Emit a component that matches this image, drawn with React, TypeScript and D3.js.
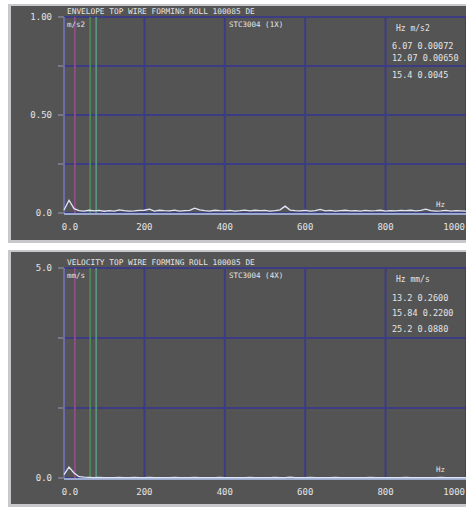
import React from "react";
import * as d3 from "d3";

// spectrum frequencies, 12.5 Hz steps, 0..1000 Hz
const freqs: number[] = d3.range(0, 81).map((i) => i * 12.5);

// acceleration envelope (m/s2)
const accAmp: number[] = [
  0.015, 0.065, 0.022, 0.012, 0.01, 0.014, 0.011, 0.013, 0.009, 0.012,
  0.01, 0.016, 0.012, 0.01, 0.011, 0.013, 0.014, 0.02, 0.01, 0.014,
  0.012, 0.011, 0.015, 0.01, 0.012, 0.013, 0.025, 0.016, 0.012, 0.01,
  0.014, 0.012, 0.011, 0.013, 0.01, 0.012, 0.015, 0.011, 0.014, 0.012,
  0.013, 0.01, 0.012, 0.016, 0.035, 0.015, 0.012, 0.011, 0.013, 0.01,
  0.012, 0.018, 0.011, 0.013, 0.01, 0.012, 0.014, 0.011, 0.012, 0.01,
  0.013, 0.011, 0.012, 0.014, 0.01, 0.012, 0.011, 0.013, 0.012, 0.014,
  0.011, 0.013, 0.02, 0.012, 0.01, 0.011, 0.013, 0.01, 0.012, 0.011,
  0.01,
];

// velocity (mm/s)
const velAmp: number[] = [
  0.08, 0.26, 0.12, 0.03, 0.02, 0.015, 0.01, 0.012, 0.01, 0.01,
  0.01, 0.012, 0.01, 0.01, 0.015, 0.01, 0.01, 0.012, 0.01, 0.01,
  0.01, 0.01, 0.012, 0.01, 0.01, 0.01, 0.015, 0.01, 0.01, 0.01,
  0.01, 0.012, 0.01, 0.01, 0.01, 0.01, 0.01, 0.015, 0.01, 0.01,
  0.01, 0.01, 0.012, 0.01, 0.01, 0.02, 0.01, 0.01, 0.01, 0.012,
  0.01, 0.01, 0.01, 0.01, 0.012, 0.01, 0.01, 0.01, 0.01, 0.01,
  0.01, 0.012, 0.01, 0.01, 0.01, 0.01, 0.01, 0.01, 0.012, 0.01,
  0.01, 0.01, 0.01, 0.01, 0.01, 0.012, 0.01, 0.01, 0.01, 0.01,
  0.01,
];

const xTicks = [0, 200, 400, 600, 800, 1000];
const xTickLabels = ["0.0", "200", "400", "600", "800", "1000"];

// harmonic marker lines (Hz)
const markerFreqs = [27, 65, 80];
const markerColors = ["#9b4f8e", "#4f8f5c", "#5c9a86"];

const accLegend = [
  ["6.07", "0.00072"],
  ["12.07", "0.00650"],
  ["15.4", "0.0045"],
];
const velLegend = [
  ["13.2", "0.2600"],
  ["15.84", "0.2200"],
  ["25.2", "0.0880"],
];

const bg = "#545454";
const gridColor = "#3c3c84";
const textColor = "#e4e4e4";
const mono = "'DejaVu Sans Mono', monospace";

type PanelProps = {
  top: number;
  height: number;
  plotTop: number;
  plotBottom: number;
  yMax: number;
  yDivs: number;
  yLabels: string[];
  amps: number[];
  title: string;
  unit: string;
  mid: string;
  legendUnit: string;
  legend: string[][];
  legendY: number[];
};

function Panel(p: PanelProps) {
  const left = 64;
  const right = 466;
  const x = d3.scaleLinear().domain([0, 1000]).range([left, right]);
  const y = d3.scaleLinear().domain([0, p.yMax]).range([p.plotBottom, p.plotTop]);
  const line = d3
    .line<number>()
    .x((_, i) => x(freqs[i]))
    .y((d) => y(d));
  const gridYs = d3.range(0, p.yDivs + 1).map((i) => (p.yMax * i) / p.yDivs);

  return (
    <g>
      <rect x={8} y={p.top} width={458} height={p.height} fill="#c8c8cc" />
      <rect x={11} y={p.top + 2} width={455} height={p.height - 5} fill={bg} />
      <text x={67} y={p.plotTop - 3} fontFamily={mono} fontSize={7.8} fill={textColor}>
        {p.title}
      </text>
      {gridYs.map((g) => (
        <g key={g}>
          <line x1={left} x2={right} y1={y(g)} y2={y(g)} stroke={gridColor} strokeWidth={2} />
          <line x1={58} x2={left} y1={y(g)} y2={y(g)} stroke="#9a9ab8" strokeWidth={1} />
        </g>
      ))}
      {xTicks.map((t) => (
        <line key={t} x1={x(t)} x2={x(t)} y1={p.plotTop} y2={p.plotBottom} stroke={gridColor} strokeWidth={2} />
      ))}
      <line x1={left} x2={left} y1={p.plotTop} y2={p.plotBottom} stroke="#6c6ca8" strokeWidth={2} />
      {markerFreqs.map((f, i) => (
        <line key={f} x1={x(f)} x2={x(f)} y1={p.plotTop} y2={p.plotBottom} stroke={markerColors[i]} strokeWidth={1.5} />
      ))}
      <line x1={left} x2={right} y1={p.plotBottom + 1} y2={p.plotBottom + 1} stroke="#9aa8cc" strokeWidth={2} />
      <path d={line(p.amps) || ""} fill="none" stroke="#dfe6f8" strokeWidth={1.3} />
      {gridYs.map((g, i) =>
        p.yLabels[i] ? (
          <text key={g} x={52} y={y(g) + 3} textAnchor="end" fontFamily={mono} fontSize={9} fill={textColor}>
            {p.yLabels[i]}
          </text>
        ) : null
      )}
      {xTicks.map((t, i) => (
        <text
          key={t}
          x={i === xTicks.length - 1 ? 465 : x(t) + (i === 0 ? 6 : 0)}
          y={p.plotBottom + 17}
          textAnchor={i === xTicks.length - 1 ? "end" : "middle"}
          fontFamily={mono}
          fontSize={9}
          fill={textColor}
        >
          {xTickLabels[i]}
        </text>
      ))}
      <text x={67} y={p.plotTop + 10} fontFamily={mono} fontSize={7.5} fill={textColor}>
        {p.unit}
      </text>
      <text x={229} y={p.plotTop + 10} fontFamily={mono} fontSize={7.5} fill={textColor}>
        {p.mid}
      </text>
      <text x={396} y={p.legendY[0]} fontFamily={mono} fontSize={8} fill={textColor}>
        {"Hz  " + p.legendUnit}
      </text>
      {p.legend.map((r, i) => (
        <text key={i} x={392} y={p.legendY[i + 1]} fontFamily={mono} fontSize={8.5} fill={textColor}>
          {r[0] + " " + r[1]}
        </text>
      ))}
      <text x={436} y={p.plotBottom - 6} fontFamily={mono} fontSize={7.5} fill={textColor}>
        Hz
      </text>
    </g>
  );
}

export default function App() {
  return (
    <svg width={466} height={508} style={{ position: "absolute", left: 0, top: 0, background: "#ffffff" }}>
      <Panel
        top={4}
        height={239}
        plotTop={17}
        plotBottom={213}
        yMax={1}
        yDivs={4}
        yLabels={["0.0", "", "0.50", "", "1.00"]}
        amps={accAmp}
        title="ENVELOPE TOP WIRE FORMING ROLL 100085 DE"
        unit="m/s2"
        mid="STC3004 (1X)"
        legendUnit="m/s2"
        legend={accLegend}
        legendY={[31, 49, 61, 78]}
      />
      <Panel
        top={250}
        height={257}
        plotTop={268}
        plotBottom={478}
        yMax={5}
        yDivs={3}
        yLabels={["0.0", "", "", "5.0"]}
        amps={velAmp}
        title="VELOCITY TOP WIRE FORMING ROLL 100085 DE"
        unit="mm/s"
        mid="STC3004 (4X)"
        legendUnit="mm/s"
        legend={velLegend}
        legendY={[282, 301, 316, 332]}
      />
    </svg>
  );
}
